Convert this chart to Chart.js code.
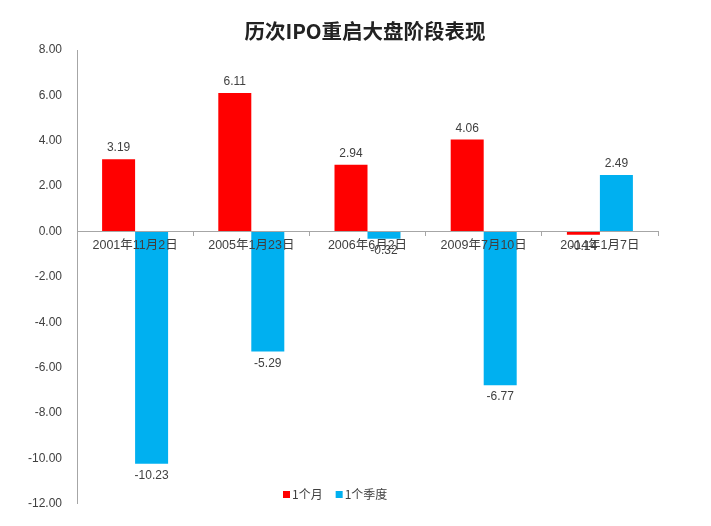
<!DOCTYPE html>
<html lang="zh">
<head>
    <meta charset="UTF-8">
    <title>历次IPO重启大盘阶段表现</title>
    <script src="https://cdn.jsdelivr.net/npm/chart.js"></script>
    <style>
        html, body { margin: 0; padding: 0; background: #fff; }
        #wrap { width: 711px; height: 526px; position: relative; }
    </style>
</head>
<body>
    <div id="wrap"><canvas id="myChart" width="711" height="526"></canvas></div>

    <script>
        // 数据
        const chartTitle = '历次IPO重启大盘阶段表现';
        const categories = ['2001年11月2日', '2005年1月23日', '2006年6月2日', '2009年7月10日', '2014年1月7日'];
        const seriesNames = ['1个月', '1个季度'];
        const oneMonth = [3.19, 6.11, 2.94, 4.06, -0.14];
        const oneQuarter = [-10.23, -5.29, -0.32, -6.77, 2.49];
        const seriesColors = ['#ff0000', '#00b0f0'];

        const FONT = '"Liberation Sans", "Noto Sans CJK SC", sans-serif';

        // 数值标签 + 标题 + 图例
        const decorPlugin = {
            id: 'decor',
            afterDraw(chart) {
                const c = chart.ctx;
                c.save();
                c.font = '12px ' + FONT;
                c.fillStyle = '#404040';
                c.textAlign = 'center';
                chart.data.datasets.forEach((ds, i) => {
                    const meta = chart.getDatasetMeta(i);
                    meta.data.forEach((bar, j) => {
                        const v = ds.data[j];
                        const txt = v.toFixed(2);
                        if (v >= 0) {
                            c.textBaseline = 'bottom';
                            c.fillText(txt, bar.x, bar.y - 5);
                        } else {
                            c.textBaseline = 'top';
                            c.fillText(txt, bar.x, bar.y + 6);
                        }
                    });
                });

                // 标题
                c.font = 'bold 20.5px "Noto Sans CJK SC", sans-serif';
                c.fillStyle = '#222';
                c.textAlign = 'center';
                c.textBaseline = 'middle';
                c.fillText(chartTitle, 365, 31);

                // 图例
                c.font = '12px "Noto Sans CJK SC", sans-serif';
                c.textAlign = 'left';
                let x = 283;
                const y = 494;
                seriesNames.forEach((name, i) => {
                    c.fillStyle = seriesColors[i];
                    c.fillRect(x, y - 3, 7, 7);
                    c.fillStyle = '#404040';
                    c.fillText(name, x + 9, y);
                    x += 9 + c.measureText(name).width + 13;
                });
                c.restore();
            }
        };

        const ctx = document.getElementById('myChart').getContext('2d');
        const myChart = new Chart(ctx, {
            type: 'bar',
            data: {
                labels: categories,
                datasets: [
                    { label: seriesNames[0], data: oneMonth, backgroundColor: seriesColors[0] },
                    { label: seriesNames[1], data: oneQuarter, backgroundColor: seriesColors[1] }
                ]
            },
            options: {
                responsive: false,
                animation: false,
                layout: { padding: { left: 0, right: 53, top: 50, bottom: 18 } },
                datasets: {
                    bar: { categoryPercentage: 0.568, barPercentage: 1.0 }
                },
                plugins: {
                    legend: { display: false },
                    title: { display: false },
                    tooltip: { enabled: false }
                },
                scales: {
                    x: {
                        position: { y: 0 },
                        offset: true,
                        grid: {
                            offset: true,
                            drawOnChartArea: false,
                            drawTicks: true,
                            tickLength: 4,
                            color: '#a6a6a6',
                            z: 1
                        },
                        border: { color: '#a6a6a6', z: 1 },
                        ticks: {
                            z: 1,
                            color: '#404040',
                            font: { size: 12.5, family: FONT },
                            padding: 3,
                            maxRotation: 0,
                            autoSkip: false
                        }
                    },
                    y: {
                        min: -12,
                        max: 8,
                        afterFit(scale) { scale.width = 77; },
                        grid: { display: false, drawTicks: false },
                        border: { color: '#a6a6a6' },
                        ticks: {
                            stepSize: 2,
                            padding: 15,
                            color: '#404040',
                            font: { size: 12, family: FONT },
                            callback: v => v.toFixed(2)
                        }
                    }
                }
            },
            plugins: [decorPlugin]
        });
    </script>
</body>
</html>
